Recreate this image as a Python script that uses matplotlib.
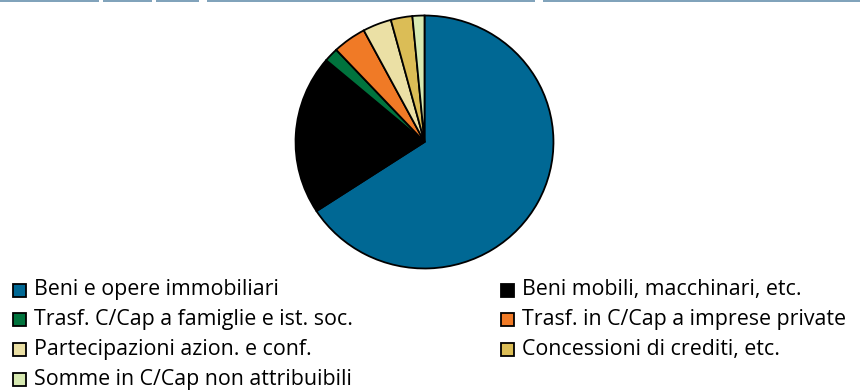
import matplotlib
matplotlib.use("Agg")
import matplotlib.pyplot as plt
from matplotlib.patches import Rectangle
from matplotlib.lines import Line2D

# Capital expenditure shares (%)
categories = [
    "Beni e opere immobiliari",
    "Beni mobili, macchinari, etc.",
    "Trasf. C/Cap a famiglie e ist. soc.",
    "Trasf. in C/Cap a imprese private",
    "Partecipazioni azion. e conf.",
    "Concessioni di crediti, etc.",
    "Somme in C/Cap non attribuibili",
]
shares = [65.8, 20.4, 1.8, 4.2, 3.6, 2.7, 1.5]
colors = ["#006894", "#000000", "#00733d", "#f07a26",
          "#ebe0a5", "#dbbd56", "#d7e9b1"]

W, H = 860, 390
fig = plt.figure(figsize=(W / 100, H / 100), dpi=100)
fig.patch.set_facecolor("white")

plt.rcParams["font.family"] = ["Open Sans", "DejaVu Sans"]

# thin header rule split into tabs
header_segments = [(0, 99), (103, 152), (156, 199), (207, 535), (543, 860)]
for x0, x1 in header_segments:
    fig.add_artist(Line2D([x0 / W, x1 / W], [1 - 0.6 / H, 1 - 0.6 / H],
                          color="#7ea1ba", lw=1.4, solid_capstyle="butt"))

# pie
cx, cy, rx, ry = 424.5, 142, 130.5, 128
ax = fig.add_axes([(cx - rx) / W, 1 - (cy + ry) / H, 2 * rx / W, 2 * ry / H])
ax.pie(shares, colors=colors, startangle=90, counterclock=False,
       radius=1.0, center=(0, 0),
       wedgeprops=dict(edgecolor="black", linewidth=1.3))
ax.set_xlim(-1.012, 1.012)
ax.set_ylim(-1.012, 1.012)
ax.set_aspect("auto")
ax.axis("off")

# legend, two columns in row-major order
col_x = [13, 501]
row_y0, row_dy = 290, 29.7
box = 13
for i, (lab, col) in enumerate(zip(categories, colors)):
    r, c = divmod(i, 2)
    x = col_x[c]
    y = row_y0 + r * row_dy
    fig.add_artist(Rectangle((x / W, 1 - (y + box / 2) / H), box / W, box / H,
                             facecolor=col, edgecolor="black", lw=1.3,
                             transform=fig.transFigure))
    fig.text((x + 21) / W, 1 - (y + 5.5) / H, lab, fontsize=15.4,
             va="baseline", ha="left", color="black")

fig.savefig("out.png", dpi=100, facecolor="white")
